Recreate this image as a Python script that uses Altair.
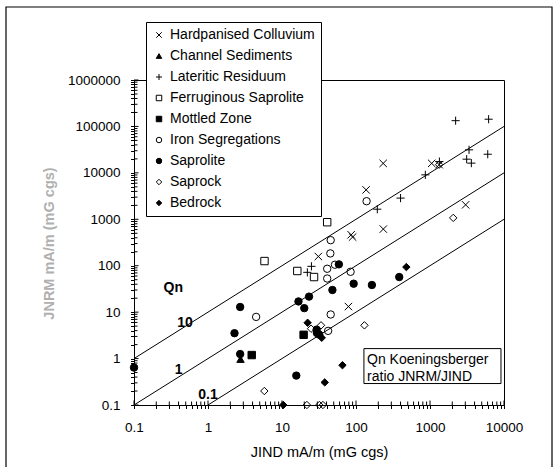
import altair as alt
import pandas as pd

# ---------------- data ----------------
materials = ["Hardpanised Colluvium", "Channel Sediments", "Lateritic Residuum",
             "Ferruginous Saprolite", "Mottled Zone", "Iron Segregations",
             "Saprolite", "Saprock", "Bedrock"]

hard_x = [233, 137, 1054, 1330, 3030, 234, 86, 90, 31, 79]
hard_y = [16000, 4300, 16000, 15000, 2050, 615, 464, 414, 158, 13.2]

chan_x = [2.75]
chan_y = [0.97]

lat_x = [2220, 6200, 3370, 3130, 3620, 6030, 865, 1340, 400, 194, 25, 22]
lat_y = [133000, 143000, 31300, 19700, 16200, 25200, 9060, 17500, 2860, 1650, 97, 72]

ferr_x = [40.8, 5.8, 16.1, 27.1]
ferr_y = [865, 126, 77, 57]

mott_x = [3.9, 19.6]
mott_y = [1.19, 3.25]

iron_x = [139, 45.5, 45, 40.8, 40.8, 52, 84.5, 4.47, 45.5, 42]
iron_y = [2450, 355, 184, 86, 53, 105, 74, 7.9, 8.9, 3.95]

sapl_x = [58.7, 48, 93, 164, 384, 16.7, 23.2, 20, 2.72, 2.28, 2.72, 0.1, 15.6, 29.4, 29.6, 31.9]
sapl_y = [107, 30, 41, 38.4, 57, 17, 21.6, 12.2, 12.9, 3.52, 1.25, 0.64, 0.43, 4.2, 3.57, 3.28]

sapr_x = [2060, 1330, 130, 24.7, 33.7, 5.77, 21.7, 32, 35.7]
sapr_y = [1072, 15000, 5.2, 4.4, 5.2, 0.2, 0.1, 0.1, 0.1]

bed_x = [479, 22.2, 34.4, 65.6, 37.8, 10.4]
bed_y = [93.5, 5.9, 2.8, 0.72, 0.307, 0.1]

series_x = [hard_x, chan_x, lat_x, ferr_x, mott_x, iron_x, sapl_x, sapr_x, bed_x]
series_y = [hard_y, chan_y, lat_y, ferr_y, mott_y, iron_y, sapl_y, sapr_y, bed_y]

# Qn reference lines (JNRM = Qn * JIND)
qn_names = ["10", "10", "1", "1", "0.1", "0.1"]
qn_x = [0.1, 10000, 0.1, 10000, 1, 10000]
qn_y = [1, 100000, 0.1, 10000, 0.1, 1000]

# labels on the Qn lines
lab_text = ["Qn", "10", "1", "0.1"]
lab_x = [0.34, 0.49, 0.40, 1.0]
lab_y = [33.6, 5.9, 0.58, 0.168]

note_lines = ["Qn Koeningsberger", "ratio JNRM/JIND"]
note_x = [141, 141]
note_y = [0.95, 0.41]
note_box = {"x": 128, "x2": 9100, "y": 1.64, "y2": 0.29}

x_decades = [0.1, 1, 10, 100, 1000, 10000]
y_decades = [0.1, 1, 10, 100, 1000, 10000, 100000, 1000000]

# ---------------- tables ----------------
rows = []
for m, xs_, ys_ in zip(materials, series_x, series_y):
    for a, b in zip(xs_, ys_):
        rows.append({"Material": m, "x": a, "y": b})
pts = pd.DataFrame(rows)

lines = pd.DataFrame({"Qn": qn_names, "x": qn_x, "y": qn_y})
labs = pd.DataFrame({"t": lab_text, "x": lab_x, "y": lab_y})
notes = pd.DataFrame({"t": note_lines, "x": note_x, "y": note_y})
box = pd.DataFrame([note_box])


def minor(decades):
    out = []
    for d in decades[:-1]:
        for k in range(2, 10):
            out.append(round(d * k, 6))
    return out

x_ticks = sorted(x_decades + minor(x_decades))
y_ticks = sorted(y_decades + minor(y_decades))

xmin = pd.DataFrame({"x": minor(x_decades)})
xmaj = pd.DataFrame({"x": x_decades})
ymin = pd.DataFrame({"y": minor(y_decades)})
ymaj = pd.DataFrame({"y": y_decades})

FONT = "Liberation Sans"
W, H = 370, 325

xs = alt.Scale(type="log", domain=[0.1, 10000], nice=False)
ys = alt.Scale(type="log", domain=[0.1, 1000000], nice=False)

DECADE_ONLY = ("abs(log(datum.value) / LN10 - round(log(datum.value) / LN10)) < 0.000001"
               " ? format(datum.value, '~r') : ''")

xaxis = alt.Axis(values=x_ticks, labelExpr=DECADE_ONLY, ticks=True, tickSize=3.5,
                 tickColor="black", tickWidth=1, grid=False, labelOverlap=False,
                 labelFontSize=13.5, labelFont=FONT, labelColor="black",
                 labelPadding=11.5, domainColor="black", titleFont=FONT,
                 titleFontSize=14.5, titleFontWeight="normal", titleColor="black",
                 titleBaseline="middle", titleY=47, labelFlush=False)
yaxis = alt.Axis(values=y_ticks, labelExpr=DECADE_ONLY, ticks=True, tickSize=3.5,
                 tickColor="black", tickWidth=1, grid=False, labelOverlap=False,
                 labelFontSize=13.5, labelFont=FONT, labelColor="black",
                 labelPadding=10.5, domainColor="black", titleFont=FONT,
                 titleFontSize=14.5, titleFontWeight="bold", titleColor="#b0b0b0",
                 titleBaseline="middle", titleX=-85, titleY=163, labelFlush=False)

X = alt.X("x:Q", scale=xs, axis=xaxis, title="JIND  mA/m (mG cgs)")
Y = alt.Y("y:Q", scale=ys, axis=yaxis, title="JNRM  mA/m (mG cgs)")

shapes = ["M-1,-1L1,1M-1,1L1,-1", "triangle-up", "M-1.1,0L1.1,0M0,-1.1L0,1.1",
          "square", "square", "circle", "circle", "diamond", "diamond"]
fills = ["transparent", "black", "transparent", "transparent", "black",
         "transparent", "black", "transparent", "black"]
strokes = ["black"] * 9

legend = alt.Legend(orient="none", legendX=12, legendY=-58, title=None,
                    strokeColor="black", fillColor="white", padding=6,
                    labelFontSize=14, labelFont=FONT, labelColor="black",
                    symbolSize=30, rowPadding=7, labelOffset=4,
                    symbolStrokeWidth=1, labelLimit=300, cornerRadius=0)

frame = alt.Chart(alt.Data(values=[{}])).mark_rect(
    fill="transparent", stroke="black", strokeWidth=1.2
).encode(x=alt.value(-128), x2=alt.value(418), y=alt.value(-73), y2=alt.value(395))

qlines = alt.Chart(lines).mark_line(color="black", strokeWidth=1).encode(
    x=X, y=Y, detail="Qn:N")

points = alt.Chart(pts).mark_point(filled=False, strokeWidth=1,
                                   opacity=1, size=55).encode(
    x=X, y=Y,
    shape=alt.Shape("Material:N", scale=alt.Scale(domain=materials, range=shapes),
                    legend=legend),
    fill=alt.Fill("Material:N", scale=alt.Scale(domain=materials, range=fills),
                  legend=legend),
    stroke=alt.Stroke("Material:N", scale=alt.Scale(domain=materials, range=strokes),
                      legend=legend),
)

# inner halves of the crossing ticks
def xticks(df, half):
    return alt.Chart(df).mark_rule(color="black", strokeWidth=1).encode(
        x=X, y=alt.value(H - half), y2=alt.value(H))

def yticks(df, half):
    return alt.Chart(df).mark_rule(color="black", strokeWidth=1).encode(
        y=Y, x=alt.value(0), x2=alt.value(half))

qlabels = alt.Chart(labs).mark_text(font=FONT, fontSize=14, fontWeight="bold",
                                    color="black").encode(x=X, y=Y, text="t:N")

nbox = alt.Chart(box).mark_rect(fill="white", stroke="black", strokeWidth=1).encode(
    x=X, x2="x2:Q", y=Y, y2="y2:Q")
ntext = alt.Chart(notes).mark_text(font=FONT, fontSize=14, color="black",
                                   align="left", baseline="middle").encode(
    x=X, y=Y, text="t:N")

chart = alt.layer(frame, qlines, points,
                  xticks(xmin, 3.5), xticks(xmaj, 4.5),
                  yticks(ymin, 3.5), yticks(ymaj, 4.5),
                  qlabels, nbox, ntext).properties(
    width=W, height=H,
    autosize=alt.AutoSizeParams(type="none"),
    padding={"left": 134, "top": 80, "right": 55, "bottom": 62},
    background="white",
).configure_view(stroke="black", strokeWidth=1)

chart.save("out.html", embed_options={"renderer": "svg", "actions": False})
